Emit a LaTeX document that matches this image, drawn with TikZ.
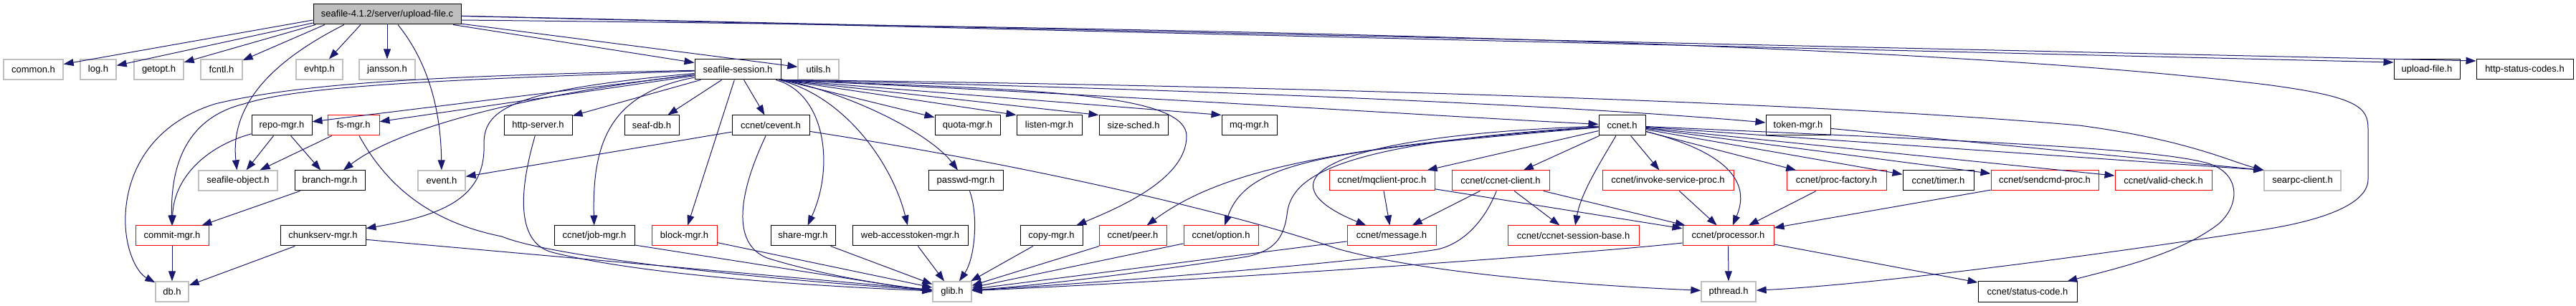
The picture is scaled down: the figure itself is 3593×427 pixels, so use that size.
\documentclass[tikz,border=0pt]{standalone}
\usepackage{fontspec}
\setmainfont{Liberation Sans}
\usetikzlibrary{arrows.meta}
\definecolor{edgecol}{HTML}{191970}
\definecolor{grayb}{HTML}{BFBFBF}
\definecolor{redb}{HTML}{FF0000}
\tikzset{
 base/.style={rectangle, inner sep=0pt, minimum height=28pt, font=\fontsize{13pt}{15pt}\selectfont, line width=1pt, fill=white},
 bbox/.style={base, draw=black},
 gbox/.style={base, draw=grayb, line width=1.3pt},
 rbox/.style={base, draw=redb},
 rootbox/.style={base, draw=black, fill=grayb},
 edge/.style={draw=edgecol, line width=1pt, -{Triangle[length=14pt,width=10pt]}},
}
\begin{document}
\begin{tikzpicture}[x=1pt,y=-1pt]
\fill[white] (0,0) rectangle (3593,427);
\useasboundingbox (0,0) rectangle (3593,427);
% row 0
\node[rootbox, minimum width=206] (root) at (540,20) {seafile-4.1.2/server/upload-file.c};
% row 1
\node[gbox, minimum width=83] (common) at (46.5,97) {common.h};
\node[gbox, minimum width=50] (log) at (137,97) {log.h};
\node[gbox, minimum width=69] (getopt) at (221.5,97) {getopt.h};
\node[gbox, minimum width=58] (fcntl) at (309,97) {fcntl.h};
\node[gbox, minimum width=65] (evhtp) at (445.5,97) {evhtp.h};
\node[gbox, minimum width=78] (jansson) at (540,97) {jansson.h};
\node[bbox, minimum width=120] (ss) at (1029,97) {seafile-session.h};
\node[gbox, minimum width=57] (utils) at (1141.5,97) {utils.h};
\node[bbox, minimum width=92] (upload) at (3385,97) {upload-file.h};
\node[bbox, minimum width=135] (httpstatus) at (3521.5,97) {http-status-codes.h};
% row 2
\node[bbox, minimum width=84] (repo) at (393,175) {repo-mgr.h};
\node[rbox, minimum width=72] (fs) at (493,175) {fs-mgr.h};
\node[bbox, minimum width=95] (httpserver) at (750.5,175) {http-server.h};
\node[bbox, minimum width=76] (seafdb) at (909,175) {seaf-db.h};
\node[bbox, minimum width=108] (cevent) at (1075,175) {ccnet/cevent.h};
\node[bbox, minimum width=91] (quota) at (1349.5,175) {quota-mgr.h};
\node[bbox, minimum width=91] (listen) at (1463.5,175) {listen-mgr.h};
\node[bbox, minimum width=96] (sizesched) at (1581,175) {size-sched.h};
\node[bbox, minimum width=77] (mqmgr) at (1742.5,175) {mq-mgr.h};
\node[bbox, minimum width=65] (ccnet) at (2262.5,175) {ccnet.h};
\node[bbox, minimum width=90] (token) at (2508,175) {token-mgr.h};
% row 3
\node[gbox, minimum width=110] (seafobj) at (332,252) {seafile-object.h};
\node[bbox, minimum width=98] (branch) at (460,252) {branch-mgr.h};
\node[gbox, minimum width=66] (event) at (616,252) {event.h};
\node[bbox, minimum width=104] (passwd) at (1347,252) {passwd-mgr.h};
\node[rbox, minimum width=147] (mqclient) at (1927.5,252) {ccnet/mqclient-proc.h};
\node[rbox, minimum width=136] (ccnetclient) at (2093,252) {ccnet/ccnet-client.h};
\node[rbox, minimum width=183] (invoke) at (2326.5,252) {ccnet/invoke-service-proc.h};
\node[rbox, minimum width=139] (procfactory) at (2561.5,252) {ccnet/proc-factory.h};
\node[bbox, minimum width=99] (timer) at (2703.5,252) {ccnet/timer.h};
\node[rbox, minimum width=150] (sendcmd) at (2852,252) {ccnet/sendcmd-proc.h};
\node[rbox, minimum width=135] (validcheck) at (3017.5,252) {ccnet/valid-check.h};
\node[gbox, minimum width=107] (searpc) at (3211.5,252) {searpc-client.h};
% row 4
\node[rbox, minimum width=102] (commit) at (240,329) {commit-mgr.h};
\node[bbox, minimum width=119] (chunkserv) at (450.5,329) {chunkserv-mgr.h};
\node[bbox, minimum width=112] (jobmgr) at (829,329) {ccnet/job-mgr.h};
\node[rbox, minimum width=91] (block) at (954.5,329) {block-mgr.h};
\node[bbox, minimum width=90] (share) at (1120,329) {share-mgr.h};
\node[bbox, minimum width=161] (webaccess) at (1269.5,329) {web-accesstoken-mgr.h};
\node[bbox, minimum width=87] (copy) at (1466.5,329) {copy-mgr.h};
\node[rbox, minimum width=94] (peer) at (1580,329) {ccnet/peer.h};
\node[rbox, minimum width=104] (option) at (1703,329) {ccnet/option.h};
\node[rbox, minimum width=124] (message) at (1941,329) {ccnet/message.h};
\node[rbox, minimum width=183] (sessionbase) at (2194.5,329) {ccnet/ccnet-session-base.h};
\node[rbox, minimum width=127] (processor) at (2410.5,329) {ccnet/processor.h};
% row 5
\node[gbox, minimum width=46] (db) at (240,407) {db.h};
\node[gbox, minimum width=54] (glib) at (1328,407) {glib.h};
\node[gbox, minimum width=76] (pthread) at (2411,407) {pthread.h};
\node[bbox, minimum width=138] (statuscode) at (2828,407) {ccnet/status-code.h};

% ---- edges from root
\draw[edge] ([yshift=-8pt]root.west) -- (common);
\draw[edge] ([yshift=-12pt]root.west) -- (log);
\draw[edge] ([xshift=-100pt]root.south) -- (getopt);
\draw[edge] ([xshift=-87pt]root.south) -- (fcntl);
\draw[edge] ([xshift=-37pt]root.south) -- (evhtp);
\draw[edge] (root) -- (jansson);
\draw[edge] ([xshift=-60pt]root.south) .. controls (390,80) and (320,140) .. (seafobj);
\draw[edge] ([xshift=15pt]root.south) .. controls (600,90) and (615,160) .. (event);
\draw[edge] (root) -- (ss);
\draw[edge] (root) -- (utils);
\draw[edge] (root) -- ([yshift=10pt]upload.west);
\draw[edge] (root) -- ([yshift=12pt]httpstatus.west);
\draw[edge] ([yshift=-8pt]root.east) .. controls (1800,40) and (2700,62) .. (3160,118)
   .. controls (3290,135) and (3303,150) .. (3303,180) -- (3303,250)
   .. controls (3303,290) and (3220,312) .. (3140,323)
   .. controls (2900,360) and (2600,398) .. (pthread);

% ---- edges from seafile-session.h
\draw[edge] (ss) -- (repo);
\draw[edge] (ss) -- (fs);
\draw[edge] (ss) .. controls (750,130) and (560,175) .. (branch);
\draw[edge] (ss) .. controls (600,112) and (420,120) .. (340,145) .. controls (260,165) and (238,230) .. (commit);
\draw[edge] (ss) .. controls (600,106) and (420,116) .. (300,145) .. controls (220,170) and (178,230) .. (175,300) .. controls (173,345) and (190,380) .. (db);
\draw[edge] (ss) .. controls (720,125) and (675,150) .. (675,200) .. controls (678,275) and (620,300) .. (chunkserv);
\draw[edge] (ss) -- (httpserver);
\draw[edge] (ss) -- (seafdb);
\draw[edge] (ss) .. controls (850,130) and (826,200) .. (jobmgr);
\draw[edge] (ss) -- (block);
\draw[edge] (ss) -- (cevent);
\draw[edge] (ss) .. controls (1150,130) and (1165,230) .. (share);
\draw[edge] (ss) .. controls (1180,135) and (1245,230) .. (webaccess);
\draw[edge] (ss) .. controls (1200,135) and (1300,190) .. (passwd);
\draw[edge] (ss.south east) -- (quota);
\draw[edge] (ss.south east) -- (listen.north west);
\draw[edge] (ss.south east) -- (sizesched.north west);
\draw[edge] (ss.south east) -- (mqmgr.north west);
\draw[edge] (ss.south east) .. controls (1400,125) and (1655,125) .. (1655,190) .. controls (1655,250) and (1560,290) .. (copy);
\draw[edge] (ss.south east) .. controls (1600,135) and (2000,162) .. (ccnet);
\draw[edge] (ss.south east) .. controls (1700,125) and (2200,148) .. (token);
\draw[edge] (ss.south east) .. controls (1700,118) and (2500,140) .. (2900,175) .. controls (3050,195) and (3110,225) .. (searpc.north west);

% ---- second level
\draw[edge] (repo) -- (seafobj);
\draw[edge] (repo) -- (branch);
\draw[edge] (repo) .. controls (285,205) and (242,250) .. (commit);
\draw[edge] (fs) -- (seafobj);
\draw[edge] (fs) .. controls (540,260) and (600,310) .. (700,330) .. controls (760,355) and (1000,385) .. (glib);
\draw[edge] (branch) -- (commit);
\draw[edge] (commit) -- (db);
\draw[edge] (chunkserv) -- (db);
\draw[edge] (chunkserv) -- (glib);
\draw[edge] (httpserver) .. controls (720,280) and (725,340) .. (770,352) .. controls (900,385) and (1150,400) .. (glib);
\draw[edge] ([yshift=-13pt]jobmgr.east) -- (glib.west);
\draw[edge] (block) -- (glib);
\draw[edge] (share) -- (glib);
\draw[edge] (webaccess) -- (glib);
\draw[edge] (passwd) .. controls (1365,300) and (1360,360) .. (glib);
\draw[edge] (copy) -- (glib);
\draw[edge] (peer) -- (glib);
\draw[edge] (option) -- (glib);
\draw[edge] (message) -- (glib);
\draw[edge] (cevent) -- (event);
\draw[edge] (cevent) .. controls (1030,270) and (1020,340) .. (1070,360) .. controls (1150,385) and (1250,400) .. (glib);
\draw[edge] (cevent) .. controls (1400,225) and (1700,290) .. (1865,347) .. controls (2000,385) and (2250,400) .. (pthread);
\draw[edge] (token) -- (searpc.north west);

% ---- ccnet.h
\draw[edge] (ccnet) -- (invoke);
\draw[edge] (ccnet) -- (procfactory);
\draw[edge] (ccnet) -- (timer);
\draw[edge] (ccnet) -- (sendcmd);
\draw[edge] (ccnet) -- (validcheck);
\draw[edge] (ccnet) -- (searpc.north west);
\draw[edge] (ccnet) .. controls (2420,215) and (2440,260) .. (processor);
\draw[edge] (ccnet) .. controls (2700,195) and (3000,205) .. (3080,228) .. controls (3125,242) and (3125,285) .. (3095,312) .. controls (3040,355) and (2950,375) .. (statuscode);
\draw[edge] (ccnet) .. controls (2230,230) and (2205,270) .. (sessionbase);
\draw[edge] (ccnet) -- (ccnetclient);
\draw[edge] (ccnet) -- (mqclient);
\draw[edge] (ccnet) .. controls (1830,190) and (1760,255) .. (message);
\draw[edge] (ccnet) .. controls (1850,205) and (1700,240) .. (peer);
\draw[edge] (ccnet) .. controls (1850,210) and (1740,225) .. (option);
\draw[edge] (ccnet) .. controls (1850,200) and (1800,250) .. (1795,300) .. controls (1790,335) and (1775,350) .. (1740,358) .. controls (1600,380) and (1450,398) .. (glib);

% ---- ccnet children
\draw[edge] (mqclient) -- (message);
\draw[edge] (mqclient) -- (processor);
\draw[edge] (ccnetclient) -- (message);
\draw[edge] (ccnetclient) -- (sessionbase);
\draw[edge] (ccnetclient) -- (processor);
\draw[edge] (ccnetclient) .. controls (2070,310) and (2040,340) .. (2005,348) .. controls (1900,365) and (1600,390) .. (glib);
\draw[edge] (invoke) -- (processor);
\draw[edge] (procfactory) -- (processor);
\draw[edge] (sendcmd) -- (processor);
\draw[edge] (processor) -- (pthread);
\draw[edge] (processor) -- (statuscode);
\draw[edge] ([yshift=-10pt]processor.west) .. controls (2250,350) and (1800,385) .. (glib);
\end{tikzpicture}
\end{document}
